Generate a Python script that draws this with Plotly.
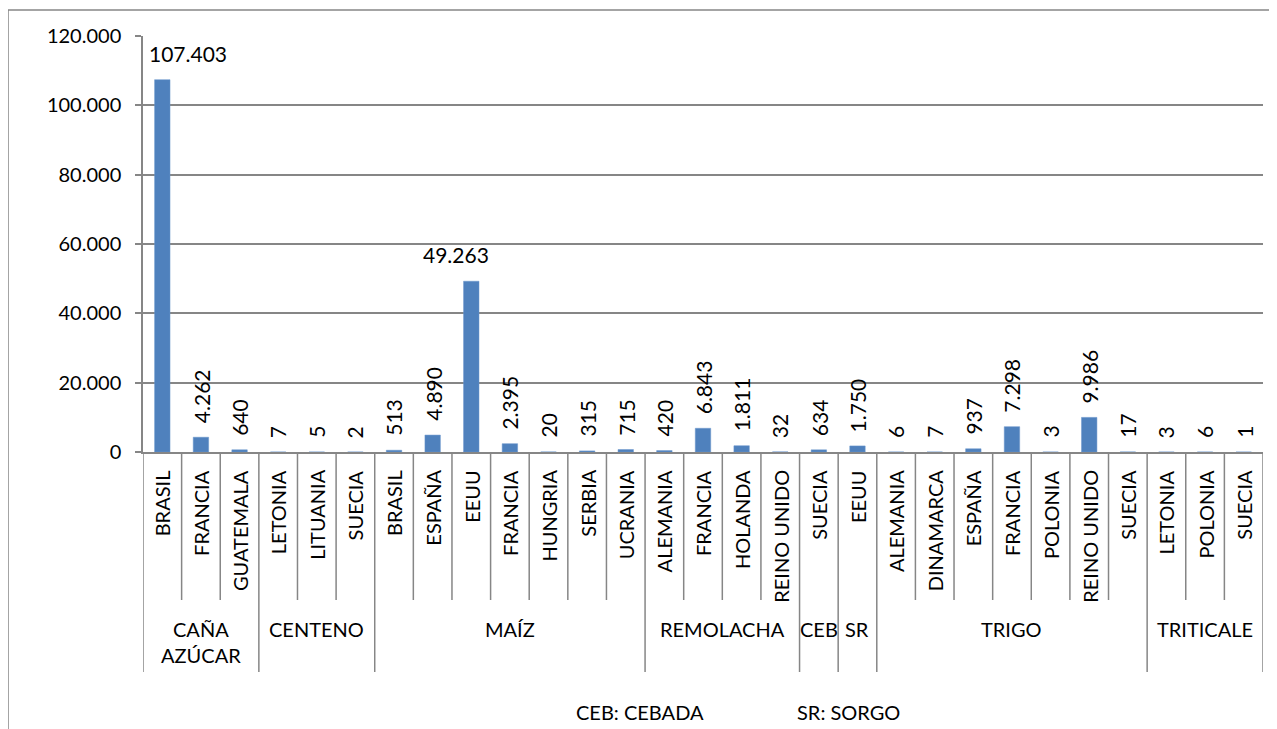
import plotly.graph_objects as go

# ---------------- data ----------------
groups = ["CAÑA<br>AZÚCAR", "CENTENO", "MAÍZ", "REMOLACHA", "CEB", "SR", "TRIGO", "TRITICALE"]
group_sizes = [3, 3, 7, 4, 1, 1, 7, 3]
countries = [
    "BRASIL", "FRANCIA", "GUATEMALA",
    "LETONIA", "LITUANIA", "SUECIA",
    "BRASIL", "ESPAÑA", "EEUU", "FRANCIA", "HUNGRIA", "SERBIA", "UCRANIA",
    "ALEMANIA", "FRANCIA", "HOLANDA", "REINO UNIDO",
    "SUECIA",
    "EEUU",
    "ALEMANIA", "DINAMARCA", "ESPAÑA", "FRANCIA", "POLONIA", "REINO UNIDO", "SUECIA",
    "LETONIA", "POLONIA", "SUECIA",
]
values = [
    107403, 4262, 640,
    7, 5, 2,
    513, 4890, 49263, 2395, 20, 315, 715,
    420, 6843, 1811, 32,
    634,
    1750,
    6, 7, 937, 7298, 3, 9986, 17,
    3, 6, 1,
]
y_ticks = [0, 20000, 40000, 60000, 80000, 100000, 120000]
footer = ["CEB: CEBADA", "SR: SORGO"]

# ---------------- layout constants ----------------
FONT = "Lato"
GRID = "#868686"
BAR = "#4F81BD"
OFF = 8  # page body margin
W, H = 1277 - OFF, 729
PLOT_L, PLOT_R, PLOT_T, PLOT_B = 143 - OFF, 1263 - OFF, 36 - OFF, 452 - OFF
PH = PLOT_B - PLOT_T
PW = PLOT_R - PLOT_L


def py(page_px):
    return (PLOT_B - (page_px - OFF)) / PH


def pxx(page_px):
    return ((page_px - OFF) - PLOT_L) / PW


x = list(range(len(countries)))

fig = go.Figure()
fig.add_trace(go.Bar(
    x=x, y=values, width=0.4,
    marker=dict(color=BAR, line=dict(color="#6a96cc", width=0.5)),
    hoverinfo="skip",
))

ann = []
shapes = []


def fmt(v):
    return f"{v:,}".replace(",", ".")


label_nudge = {0: 26, 8: -15}
for i, v in enumerate(values):
    horizontal = v >= 20000
    ann.append(dict(
        x=i, y=v, xref="x", yref="y", text=fmt(v), showarrow=False,
        textangle=0 if horizontal else -90,
        xanchor="center", yanchor="bottom",
        yshift=12,
        xshift=label_nudge.get(i, 0),
        font=dict(family=FONT, size=21, color="black"),
    ))
    # category labels
    ann.append(dict(
        x=i, y=0, xref="x", yref="paper", text=countries[i], showarrow=False,
        textangle=-90, xanchor="center", yanchor="top", yshift=-16,
        font=dict(family=FONT, size=20, color="black"),
    ))

# group boundaries and labels
bounds = [0]
for s in group_sizes:
    bounds.append(bounds[-1] + s)
group_edges = set(bounds)
for b in bounds:
    shapes.append(dict(type="line", xref="x", yref="paper",
                       x0=b - 0.5, x1=b - 0.5, y0=0, y1=py(672),
                       line=dict(color=GRID, width=1.5)))
for b in range(1, len(countries)):
    if b not in group_edges:
        shapes.append(dict(type="line", xref="x", yref="paper",
                           x0=b - 0.5, x1=b - 0.5, y0=0, y1=py(600),
                           line=dict(color=GRID, width=1.5)))
for g, (a, b) in zip(groups, zip(bounds[:-1], bounds[1:])):
    ann.append(dict(
        x=(a + b - 1) / 2, y=py(615), xref="x", yref="paper", text=g,
        showarrow=False, xanchor="center", yanchor="top",
        font=dict(family=FONT, size=20, color="black"),
    ))

# footer
ann.append(dict(x=pxx(640), y=py(712), xref="paper", yref="paper", text=footer[0],
                showarrow=False, xanchor="center", yanchor="middle",
                font=dict(family=FONT, size=20, color="black")))
ann.append(dict(x=pxx(795), y=py(712), xref="paper", yref="paper", text=footer[1],
                showarrow=False, xanchor="left", yanchor="middle",
                font=dict(family=FONT, size=20, color="black")))

# outer chart border
shapes.append(dict(type="rect", xref="paper", yref="paper",
                   x0=pxx(8), x1=pxx(1300), y0=py(760), y1=py(10),
                   line=dict(color=GRID, width=1.5)))

fig.update_layout(
    width=W, height=H,
    margin=dict(l=PLOT_L, r=W - PLOT_R, t=PLOT_T, b=H - PLOT_B),
    paper_bgcolor="white", plot_bgcolor="white",
    separators=",.",
    showlegend=False,
    font=dict(family=FONT, size=20, color="black"),
    annotations=ann, shapes=shapes,
    xaxis=dict(range=[-0.5, len(countries) - 0.5], showticklabels=False, ticks="",
               showgrid=False, zeroline=False, showline=True, linecolor=GRID, linewidth=1.5),
    yaxis=dict(range=[0, 120000], tickvals=y_ticks, tickformat=",d",
               showgrid=True, gridcolor=GRID, gridwidth=1.5, zeroline=False,
               showline=True, linecolor=GRID, linewidth=1.5,
               ticks="outside", ticklen=6, tickcolor=GRID, tickwidth=1.5,
               ticklabelstandoff=10,
               tickfont=dict(family=FONT, size=20, color="black")),
)

fig.write_html("out.html")
